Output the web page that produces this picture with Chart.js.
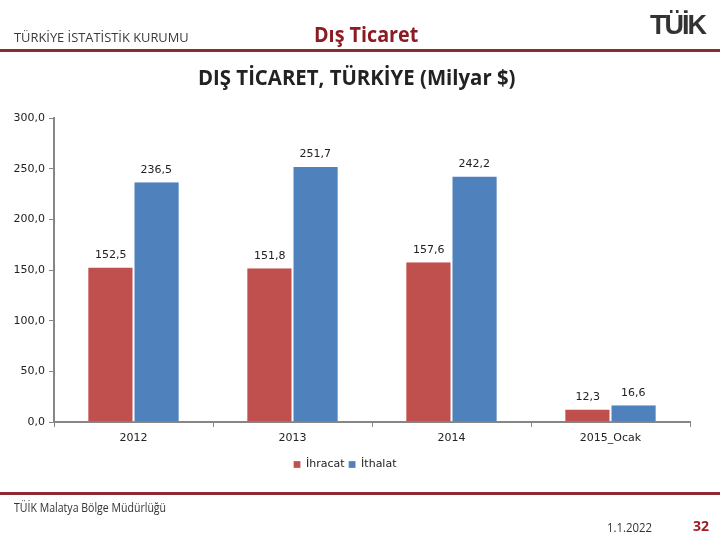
<!DOCTYPE html>
<html>
<head>
<meta charset="utf-8">
<script src="https://cdn.jsdelivr.net/npm/chart.js@4/dist/chart.umd.min.js"></script>
<style>
  html, body { margin:0; padding:0; background:#fff; }
  #wrap { position:relative; width:720px; height:540px; overflow:hidden; font-family:"Open Sans", "DejaVu Sans", sans-serif; }
  canvas { position:absolute; left:0; top:0; }
  .t { position:absolute; white-space:nowrap; }
  .line { position:absolute; left:0; width:720px; background:#8E2B32; }
</style>
</head>
<body>
<div id="wrap">
  <canvas id="c" width="720" height="540"></canvas>
  <div class="t" style="left:14px;top:29px;font-size:12.5px;color:#3a3a3a;font-family:'Open Sans';transform:scaleX(1.03);transform-origin:left;">TÜRKİYE İSTATİSTİK KURUMU</div>
  <div class="t" style="left:314px;top:20px;font-size:21px;font-weight:bold;color:#8B1C24;font-family:'Open Sans';transform:scaleX(0.94);transform-origin:left;">Dış Ticaret</div>
  <div class="t" style="left:650px;top:10px;font-size:27px;font-weight:bold;color:#333;font-family:'Liberation Sans Narrow','Liberation Sans';letter-spacing:-2px;">TÜİK</div>
  <div class="line" style="top:49px;height:3px;"></div>
  <div class="t" style="left:198px;top:63px;font-size:21px;font-weight:bold;color:#222;font-family:'Open Sans';transform:scaleX(0.97);transform-origin:left;">DIŞ TİCARET, TÜRKİYE (Milyar $)</div>
  <div class="line" style="top:492px;height:3px;"></div>
  <div class="t" style="left:14px;top:499px;font-size:12px;color:#333;font-family:'Open Sans';transform:scaleX(0.88);transform-origin:left;">TÜİK Malatya Bölge Müdürlüğü</div>
  <div class="t" style="left:607px;top:519px;font-size:12px;color:#333;font-family:'Open Sans';transform:scaleX(0.95);transform-origin:left;">1.1.2022</div>
  <div class="t" style="left:693px;top:516px;font-size:14px;font-weight:bold;color:#A01C24;font-family:'Open Sans';">32</div>
</div>
<script>
const categories = ["2012", "2013", "2014", "2015_Ocak"];
const ihracat = [152.5, 151.8, 157.6, 12.3];
const ithalat = [236.5, 251.7, 242.2, 16.6];
const seriesNames = ["İhracat", "İthalat"];

const fmt = v => v.toFixed(1).replace('.', ',');

const labelPlugin = {
  id: 'barLabels',
  afterDatasetsDraw(chart) {
    const ctx = chart.ctx;
    ctx.save();
    ctx.font = '11px "DejaVu Sans"';
    ctx.fillStyle = '#222';
    ctx.textAlign = 'center';
    ctx.textBaseline = 'bottom';
    chart.data.datasets.forEach((ds, i) => {
      const meta = chart.getDatasetMeta(i);
      meta.data.forEach((bar, j) => {
        ctx.fillText(fmt(ds.data[j]), bar.x, bar.y - 7);
      });
    });
    ctx.restore();
  }
};

new Chart(document.getElementById('c'), {
  type: 'bar',
  data: {
    labels: categories,
    datasets: [
      { label: seriesNames[0], data: ihracat, backgroundColor: '#C0504D', borderColor:'#fff', borderWidth:{left:0,right:1,top:0,bottom:0} },
      { label: seriesNames[1], data: ithalat, backgroundColor: '#4F81BD', borderColor:'#fff', borderWidth:{left:1,right:0,top:0,bottom:0} }
    ]
  },
  options: {
    responsive: false,
    animation: false,
    layout: { padding: { left: 0, right: 30, top: 118, bottom: 60 } },
    datasets: { bar: { categoryPercentage: 0.57, barPercentage: 1.0 } },
    plugins: {
      title: { display: false },
      tooltip: { enabled: false },
      legend: {
        position: 'bottom',
        labels: {
          boxWidth: 7, boxHeight: 7, padding: 4,
          font: { size: 11, family: 'DejaVu Sans' }, color: '#222'
        }
      }
    },
    scales: {
      x: {
        afterFit: s => { s.height = 33; },
        grid: { drawOnChartArea: false, drawTicks: true, tickLength: 5, color: '#868686', offset: true },
        border: { color: '#868686', width: 2 },
        ticks: { font: { size: 11, family: 'DejaVu Sans' }, color: '#222', padding: 5 }
      },
      y: {
        min: 0, max: 300,
        afterFit: s => { s.width = 54; },
        grid: { drawOnChartArea: false, drawTicks: true, tickLength: 5, color: '#868686' },
        border: { color: '#868686', width: 2 },
        ticks: { stepSize: 50, callback: v => fmt(v), font: { size: 11, family: 'DejaVu Sans' }, color: '#222', padding: 4 }
      }
    }
  },
  plugins: [labelPlugin]
});
</script>
</body>
</html>
